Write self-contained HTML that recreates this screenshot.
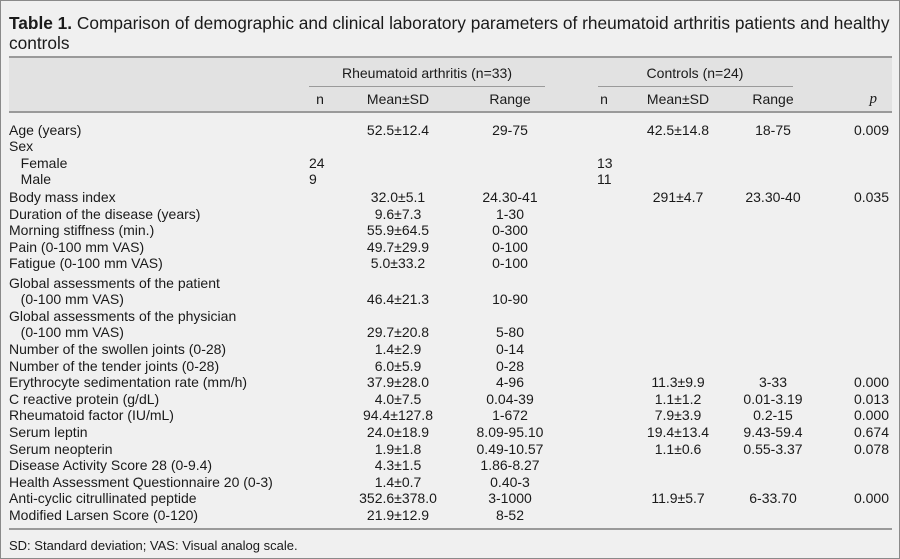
<!DOCTYPE html>
<html><head><meta charset="utf-8"><style>
body{margin:0;width:900px;height:559px;overflow:hidden;background:#fff}
#w{position:absolute;left:0;top:0;width:898px;height:557px;border:1px solid #8a8a8a;background:#f0f0f0;font-family:"Liberation Sans",sans-serif;color:#1a1a1a;font-size:14px}
.t{position:absolute;white-space:nowrap;line-height:16px}
.c{transform:translateX(-50%)}
.r{transform:translateX(-100%)}
.ln{position:absolute;background:#9a9a9a}
</style></head><body><div id="w">
<div class="t" style="left:8px;top:12px;font-size:17.3px;line-height:20px;width:890px;"><b>Table 1.</b> Comparison of demographic and clinical laboratory parameters of rheumatoid arthritis patients and healthy<br>controls</div>
<div style="position:absolute;left:8px;top:57px;width:883px;height:53px;background:#e2e2e2"></div>
<div class="ln" style="left:8px;top:55px;width:883px;height:2px"></div>
<div class="ln" style="left:8px;top:110px;width:883px;height:2px"></div>
<div class="ln" style="left:308px;top:85px;width:236px;height:1px"></div>
<div class="ln" style="left:597px;top:85px;width:195px;height:1px"></div>
<div class="ln" style="left:8px;top:527px;width:883px;height:2px"></div>
<div class="t c" style="left:426px;top:64px">Rheumatoid arthritis (n=33)</div>
<div class="t c" style="left:694px;top:64px">Controls (n=24)</div>
<div class="t c" style="left:319px;top:90px">n</div>
<div class="t c" style="left:397px;top:90px">Mean±SD</div>
<div class="t c" style="left:509px;top:90px">Range</div>
<div class="t c" style="left:603px;top:90px">n</div>
<div class="t c" style="left:677px;top:90px">Mean±SD</div>
<div class="t c" style="left:772px;top:90px">Range</div>
<div class="t r" style="left:876px;top:90px;font-style:italic;font-family:'Liberation Serif',serif;font-size:15px">p</div>
<div id="rows"></div>
<div class="t" style="left:8px;top:537px;font-size:13px">SD: Standard deviation; VAS: Visual analog scale.</div>
</div>
<script>
var R=[
[121,"Age (years)","","52.5±12.4","29-75","","42.5±14.8","18-75","0.009"],
[137,"Sex"],
[154,"&nbsp;&nbsp;&nbsp;Female","24","","","13"],
[170,"&nbsp;&nbsp;&nbsp;Male","9","","","11"],
[188,"Body mass index","","32.0±5.1","24.30-41","","291±4.7","23.30-40","0.035"],
[205,"Duration of the disease (years)","","9.6±7.3","1-30"],
[221,"Morning stiffness (min.)","","55.9±64.5","0-300"],
[238,"Pain (0-100 mm VAS)","","49.7±29.9","0-100"],
[254,"Fatigue (0-100 mm VAS)","","5.0±33.2","0-100"],
[274,"Global assessments of the patient"],
[290,"&nbsp;&nbsp;&nbsp;(0-100 mm VAS)","","46.4±21.3","10-90"],
[307,"Global assessments of the physician"],
[323,"&nbsp;&nbsp;&nbsp;(0-100 mm VAS)","","29.7±20.8","5-80"],
[340,"Number of the swollen joints (0-28)","","1.4±2.9","0-14"],
[357,"Number of the tender joints (0-28)","","6.0±5.9","0-28"],
[373,"Erythrocyte sedimentation rate (mm/h)","","37.9±28.0","4-96","","11.3±9.9","3-33","0.000"],
[390,"C reactive protein (g/dL)","","4.0±7.5","0.04-39","","1.1±1.2","0.01-3.19","0.013"],
[406,"Rheumatoid factor (IU/mL)","","94.4±127.8","1-672","","7.9±3.9","0.2-15","0.000"],
[423,"Serum leptin","","24.0±18.9","8.09-95.10","","19.4±13.4","9.43-59.4","0.674"],
[440,"Serum neopterin","","1.9±1.8","0.49-10.57","","1.1±0.6","0.55-3.37","0.078"],
[456,"Disease Activity Score 28 (0-9.4)","","4.3±1.5","1.86-8.27"],
[473,"Health Assessment Questionnaire 20 (0-3)","","1.4±0.7","0.40-3"],
[489,"Anti-cyclic citrullinated peptide","","352.6±378.0","3-1000","","11.9±5.7","6-33.70","0.000"],
[506,"Modified Larsen Score (0-120)","","21.9±12.9","8-52"]];
var h="";
R.forEach(function(r){var y=r[0];
h+='<div class="t" style="left:8px;top:'+y+'px">'+r[1]+'</div>';
if(r[2])h+='<div class="t" style="left:308px;top:'+y+'px">'+r[2]+'</div>';
if(r[3])h+='<div class="t c" style="left:397px;top:'+y+'px">'+r[3]+'</div>';
if(r[4])h+='<div class="t c" style="left:509px;top:'+y+'px">'+r[4]+'</div>';
if(r[5])h+='<div class="t" style="left:596px;top:'+y+'px">'+r[5]+'</div>';
if(r[6])h+='<div class="t c" style="left:677px;top:'+y+'px">'+r[6]+'</div>';
if(r[7])h+='<div class="t c" style="left:772px;top:'+y+'px">'+r[7]+'</div>';
if(r[8])h+='<div class="t r" style="left:888px;top:'+y+'px">'+r[8]+'</div>';
});
document.getElementById("rows").innerHTML=h;
</script>
</body></html>
